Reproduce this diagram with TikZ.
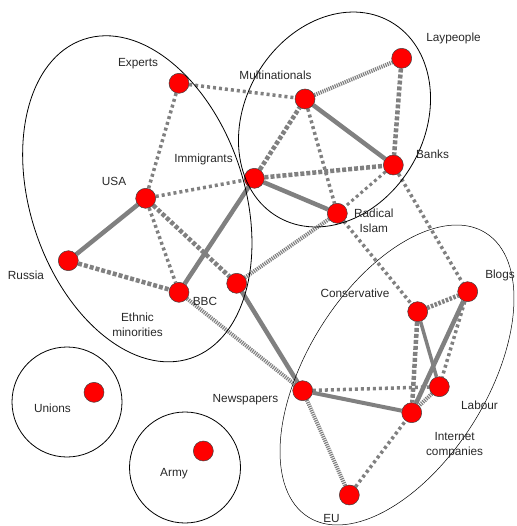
\documentclass[tikz,border=0pt]{standalone}
\usepackage{fontspec}
\setmainfont{Liberation Sans}
\usetikzlibrary{backgrounds}
\definecolor{linkgray}{RGB}{128,128,128}
\definecolor{labelgray}{RGB}{40,40,40}
\begin{document}
\begin{tikzpicture}[x=1pt,y=-1pt,
  actor/.style={circle, fill=red, draw=black!75, line width=0.5pt, minimum size=20pt, inner sep=0pt},
  lbl/.style={text=labelgray, font=\fontsize{11.8}{15.5}\selectfont, inner sep=0pt, align=center},
  tie/.style={draw=linkgray, line cap=butt},
  solidtie/.style={tie, line width=4.5pt},
  dottie/.style={tie, line width=3.5pt, dash pattern=on 3pt off 3pt},
  dashtie/.style={tie, line width=4.5pt, dash pattern=on 4pt off 2pt},
  finetie/.style={tie, line width=4pt, dash pattern=on 1.2pt off 1pt},
  group/.style={draw=black, line width=0.8pt},
  thingroup/.style={draw=black, line width=0.5pt}]

\useasboundingbox (0,0) rectangle (516,526);

% actors
\node[actor] (experts) at (179,83.3) {};
\node[actor] (multi)   at (305,99) {};
\node[actor] (lay)     at (401.7,58.3) {};
\node[actor] (banks)   at (393.3,165) {};
\node[actor] (immig)   at (254.3,178.3) {};
\node[actor] (radical) at (337.3,213.3) {};
\node[actor] (usa)     at (145.7,198.3) {};
\node[actor] (russia)  at (68.3,260.7) {};
\node[actor] (ethnic)  at (179,292.3) {};
\node[actor] (bbc)     at (236.7,283.3) {};
\node[actor] (unions)  at (94,392.3) {};
\node[actor] (army)    at (203.3,451) {};
\node[actor] (news)    at (302.7,390.7) {};
\node[actor] (cons)    at (417.7,311.7) {};
\node[actor] (blogs)   at (467.7,291.7) {};
\node[actor] (labour)  at (439.3,386.7) {};
\node[actor] (inet)    at (411.7,412.7) {};
\node[actor] (eu)      at (349.3,495) {};

% ties between actors
\begin{pgfonlayer}{background}
\draw[dottie]   (experts) -- (multi);
\draw[dottie]   (experts) -- (usa);
\draw[dottie]   (usa) -- (immig);
\draw[solidtie] (usa) -- (russia);
\draw[dottie]   (usa) -- (ethnic);
\draw[dashtie]  (usa) -- (bbc);
\draw[dashtie]  (russia) -- (ethnic);
\draw[solidtie] (immig) -- (ethnic);
\draw[dashtie]  (immig) -- (multi);
\draw[dashtie]  (immig) -- (banks);
\draw[solidtie] (immig) -- (radical);
\draw[finetie]  (multi) -- (lay);
\draw[solidtie] (multi) -- (banks);
\draw[dottie]   (multi) -- (radical);
\draw[dashtie]  (lay) -- (banks);
\draw[dottie, line width=3pt] (banks) -- (radical);
\draw[dottie]   (banks) -- (blogs);
\draw[finetie]  (radical) -- (bbc);
\draw[dottie]   (radical) -- (cons);
\draw[solidtie] (bbc) -- (news);
\draw[finetie]  (ethnic) -- (news);
\draw[dottie]   (news) -- (labour);
\draw[solidtie, line width=4pt] (news) -- (inet);
\draw[finetie]  (news) -- (eu);
\draw[dottie]   (eu) -- (inet);
\draw[dashtie, dash pattern=on 2.5pt off 1.5pt] (cons) -- (blogs);
\draw[solidtie, line width=3.5pt] (cons) -- (labour);
\draw[dashtie]  (cons) -- (inet);
\draw[solidtie] (blogs) -- (inet);
\draw[dottie]   (blogs) -- (labour);
\draw[finetie]  (labour) -- (inet);
\end{pgfonlayer}

% groups
\draw[group] (137.3,198.8) ellipse [x radius=106.9, y radius=168.2, rotate=18.6];
\draw[group] (334.5,119.5) ellipse [x radius=89.8, y radius=112.7, rotate=-30];
\draw[thingroup] (397,375) ellipse [x radius=90.1, y radius=167.5, rotate=-31.9];
\draw[group] (67,402) circle [radius=55];
\draw[group] (185,467.5) circle [radius=55.5];

% labels
\node[lbl, anchor=base] (lexperts) at (138,67) {Experts};
\node[lbl, anchor=base] (lmulti)   at (275.5,79.5) {Multinationals};
\node[lbl, anchor=base] (llay)     at (453.5,42) {Laypeople};
\node[lbl, anchor=base] (limmig)   at (203.5,163) {Immigrants};
\node[lbl, anchor=base] (lbanks)   at (432.5,158.6) {Banks};
\node[lbl, anchor=north] (lradical) at (373.8,208.7) {Radical\\Islam};
\node[lbl, anchor=base] (lusa)     at (114,186) {USA};
\node[lbl, anchor=base] (lrussia)  at (26,279.3) {Russia};
\node[lbl, anchor=base] (lbbc)     at (205,305.3) {BBC};
\node[lbl, anchor=north] (lethnic) at (137.5,312.4) {Ethnic\\minorities};
\node[lbl, anchor=base] (lunions)  at (52.5,412) {Unions};
\node[lbl, anchor=base] (larmy)    at (174,476) {Army};
\node[lbl, anchor=base] (lnews)    at (245.5,402) {Newspapers};
\node[lbl, anchor=base] (lcons)    at (355,297) {Conservative};
\node[lbl, anchor=base] (lblogs)   at (500,278.6) {Blogs};
\node[lbl, anchor=base] (llabour)  at (479.5,409.6) {Labour};
\node[lbl, anchor=north] (linet)   at (454.6,432) {Internet\\companies};
\node[lbl, anchor=base] (leu)      at (331.5,522) {EU};
\end{tikzpicture}
\end{document}
